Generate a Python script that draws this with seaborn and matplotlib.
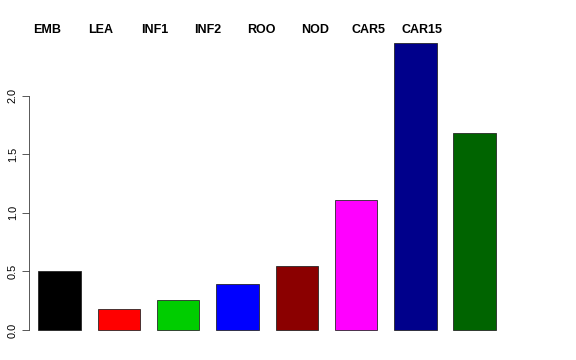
import numpy as np
import pandas as pd
import seaborn as sns
import matplotlib.pyplot as plt
import matplotlib.transforms as mtransforms

# Data
tissues = ['EMB', 'LEA', 'INF1', 'INF2', 'ROO', 'NOD', 'CAR5', 'CAR15']
values = [0.50, 0.18, 0.26, 0.39, 0.55, 1.11, 2.45, 1.68]
bar_colors = ['#000000', '#FF0000', '#00CD00', '#0000FF',
              '#8B0000', '#FF00FF', '#00008B', '#006400']

df = pd.DataFrame({'tissue': tissues, 'value': values})

sns.set_style('white')
plt.rcParams['font.family'] = ['Liberation Sans', 'DejaVu Sans']
plt.rcParams['text.color'] = 'black'
plt.rcParams['ytick.color'] = 'black'
plt.rcParams['ytick.labelcolor'] = 'black'

fig = plt.figure(figsize=(8, 5), dpi=72)
ax = fig.add_axes([29 / 576, 18.5 / 360, (512 - 29) / 576, (341.5 - 31.4) / 360])

sns.barplot(data=df, x='tissue', y='value', hue='tissue', palette=bar_colors,
            order=tissues, hue_order=tissues, legend=False, width=0.714,
            edgecolor='#222222', linewidth=0.8, saturation=1, ax=ax)

ax.set_xlim(-0.514, 7.63)
ax.set_ylim(-0.098, 2.548)
ax.set_xlabel('')
ax.set_ylabel('')
ax.set_xticks([])
ax.set_yticks([0, 0.5, 1.0, 1.5, 2.0])
ax.set_yticklabels(['0.0', '0.5', '1.0', '1.5', '2.0'], rotation=90,
                   va='center', fontsize=11, color='black')
ax.tick_params(axis='y', left=True, length=7, width=0.8, color='#333333', pad=4)

for side in ['top', 'right', 'bottom']:
    ax.spines[side].set_visible(False)
ax.spines['left'].set_bounds(0, 2.0)
ax.spines['left'].set_color('#333333')
ax.spines['left'].set_linewidth(0.8)

# tissue names along the top
trans = mtransforms.blended_transform_factory(ax.transData, fig.transFigure)
for i, name in enumerate(tissues):
    ax.text(-0.210 + 0.904 * i, (360 - 30) / 360, name, transform=trans,
            ha='center', va='center', fontsize=12.5, fontweight='bold',
            color='black', clip_on=False)

fig.savefig('out.png', dpi=72)
